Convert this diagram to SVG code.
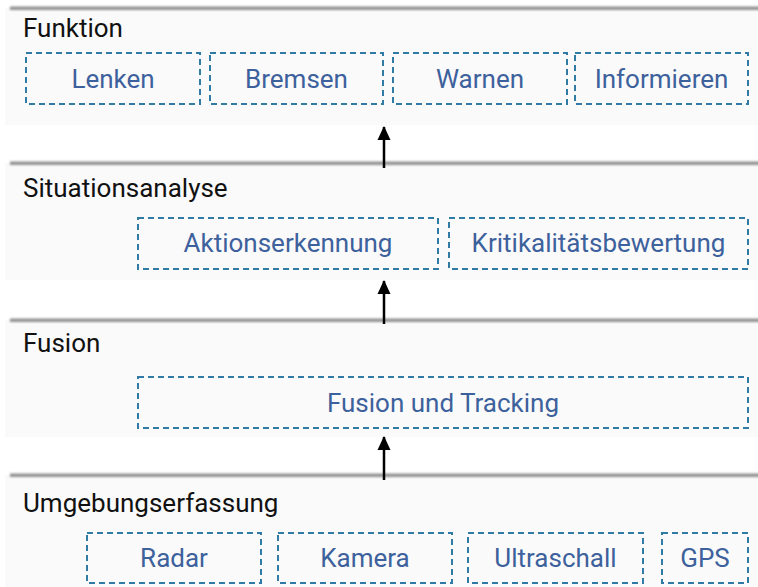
<svg xmlns="http://www.w3.org/2000/svg" width="758" height="587" viewBox="0 0 758 587">
  <defs>
    <filter id="soft" filterUnits="userSpaceOnUse" x="0" y="0" width="758" height="587">
      <feGaussianBlur stdDeviation="0.9"/>
    </filter>
    <marker id="head" viewBox="0 0 14 14" refX="13" refY="7" markerWidth="14" markerHeight="14" markerUnits="userSpaceOnUse" orient="auto">
      <path d="M0,0.5 L14,7 L0,13.5 Z" fill="#000"/>
    </marker>
    <style>
      .panel { fill: #fafafa; }
      .bar { fill: #929292; filter: url(#soft); }
      .title { font-family: Roboto, "Noto Sans", "DejaVu Sans", sans-serif; font-size: 26px; fill: #111; }
      .box rect { fill: none; stroke: #2f7ba6; stroke-width: 2; stroke-dasharray: 6 4; }
      .box text { font-family: Roboto, "Noto Sans", "DejaVu Sans", sans-serif; font-size: 26px; fill: #3d619c; text-anchor: middle; }
      .conn { stroke: #000; stroke-width: 2.5; fill: none; }
    </style>
  </defs>

  <rect width="758" height="587" fill="#ffffff"/>

  <!-- layer panels with their shaded top rule -->
  <g id="layers">
    <rect class="panel" x="5" y="8" width="753" height="117"/>
    <rect class="bar" x="10" y="6.5" width="750" height="3.5"/>
    <rect class="panel" x="5" y="163" width="753" height="117"/>
    <rect class="bar" x="10" y="161.5" width="750" height="3.5"/>
    <rect class="panel" x="5" y="320" width="753" height="117"/>
    <rect class="bar" x="10" y="318.5" width="750" height="3.5"/>
    <rect class="panel" x="5" y="475" width="753" height="112"/>
    <rect class="bar" x="10" y="473.5" width="750" height="3.5"/>
  </g>

  <g id="titles">
    <text class="title" x="23" y="37">Funktion</text>
    <text class="title" x="23" y="197">Situationsanalyse</text>
    <text class="title" x="23" y="352">Fusion</text>
    <text class="title" x="23" y="512">Umgebungserfassung</text>
  </g>

  <!-- Funktion -->
  <g id="lenken" class="box"><rect x="26" y="53" width="174" height="51"/><text x="113" y="88">Lenken</text></g>
  <g id="bremsen" class="box"><rect x="210" y="53" width="173" height="51"/><text x="296.5" y="88">Bremsen</text></g>
  <g id="warnen" class="box"><rect x="393" y="53" width="174" height="51"/><text x="480" y="88">Warnen</text></g>
  <g id="informieren" class="box"><rect x="575" y="53" width="173" height="51"/><text x="661.5" y="88">Informieren</text></g>

  <!-- Situationsanalyse -->
  <g id="aktionserkennung" class="box"><rect x="138" y="218" width="300" height="51"/><text x="288" y="252">Aktionserkennung</text></g>
  <g id="kritikalitaet" class="box"><rect x="449" y="218" width="299" height="51"/><text x="598.5" y="252">Kritikalitätsbewertung</text></g>

  <!-- Fusion -->
  <g id="fusion-tracking" class="box"><rect x="138" y="377" width="610" height="51"/><text x="443" y="412">Fusion und Tracking</text></g>

  <!-- Umgebungserfassung -->
  <g id="radar" class="box"><rect x="87" y="533" width="174" height="50"/><text x="174" y="567">Radar</text></g>
  <g id="kamera" class="box"><rect x="278" y="533" width="174" height="50"/><text x="365" y="567">Kamera</text></g>
  <g id="ultraschall" class="box"><rect x="468" y="533" width="175" height="50"/><text x="555.5" y="567">Ultraschall</text></g>
  <g id="gps" class="box"><rect x="662" y="533" width="86" height="50"/><text x="705" y="567">GPS</text></g>

  <g id="connectors">
    <line class="conn" x1="384" y1="168" x2="384" y2="127" marker-end="url(#head)"/>
    <line class="conn" x1="384" y1="324" x2="384" y2="281" marker-end="url(#head)"/>
    <line class="conn" x1="384" y1="480" x2="384" y2="437" marker-end="url(#head)"/>
  </g>
</svg>
